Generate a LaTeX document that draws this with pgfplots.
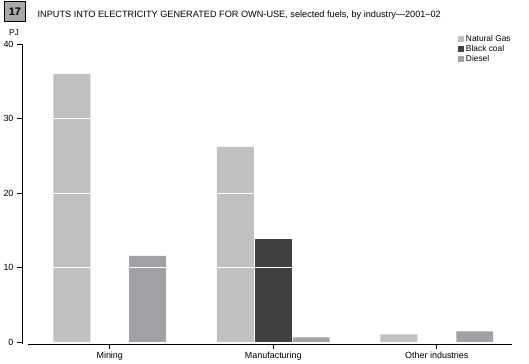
\documentclass[border=0pt]{standalone}
\usepackage{pgfplots}
\pgfplotsset{compat=1.18}
\usepackage{fontspec}
\setmainfont{Liberation Sans}
\definecolor{ng}{HTML}{C0C0C0}
\definecolor{coal}{HTML}{404040}
\definecolor{diesel}{HTML}{A2A2A6}
\definecolor{boxg}{HTML}{A8A8A8}
\begin{document}
\begin{tikzpicture}[x=1bp,y=1bp]
\useasboundingbox (0,0) rectangle (529,363);
\node[draw=black, line width=1.3bp, fill=boxg, minimum width=21bp, minimum height=20bp, inner sep=0pt,
  font=\fontsize{11}{12}\selectfont\bfseries] at (15,351.5) {17};
\node[anchor=west, inner sep=0pt, font=\fontsize{9.2}{10}\selectfont] at (37.5,347.5)
  {INPUTS INTO ELECTRICITY GENERATED FOR OWN-USE, selected fuels, by industry—2001–02};
\node[inner sep=0pt, font=\fontsize{8.5}{10}\selectfont] at (14,330) {PJ};
\begin{axis}[
  at={(28bp,19bp)}, anchor=south west,
  scale only axis, width=484bp, height=300bp,
  xmin=-0.5, xmax=2.46, ymin=-0.2, ymax=40,
  axis x line=bottom, axis y line=left,
  axis y line shift=6bp,
  axis line style={line width=1bp, -},
  xtick={0,1,2}, xticklabels={Mining,Manufacturing,Other industries},
  ytick={0,10,20,30,40},
  tick align=outside, major tick length=5bp,
  tick style={line width=0.9bp, black},
  ymajorgrids, grid style={white, line width=1bp},
  axis on top,
  ticklabel style={font=\fontsize{9}{10}\selectfont},
  /pgf/number format/assume math mode=true,
  xticklabel style={yshift=1bp},
  ybar, bar width=0.226,
  legend style={at={(0.888,1.035)}, anchor=north west, draw=none, fill=none,
    font=\fontsize{8.4}{9}\selectfont, row sep=-1.8bp, inner sep=0pt,
    legend cell align=left},
  legend image code/.code={\fill[#1] (0bp,-3bp) rectangle (6bp,3bp);},
]
\addplot[fill=ng, draw=none, bar shift=-0.232] coordinates {(0,36.0) (1,26.2) (2,1.1)};
\addlegendentry{Natural Gas}
\addplot[fill=coal, draw=none, bar shift=0] coordinates {(1,13.9)};
\addlegendentry{Black coal}
\addplot[fill=diesel, draw=none, bar shift=0.232] coordinates {(0,11.6) (1,0.7) (2,1.5)};
\addlegendentry{Diesel}
\end{axis}
\end{tikzpicture}
\end{document}
